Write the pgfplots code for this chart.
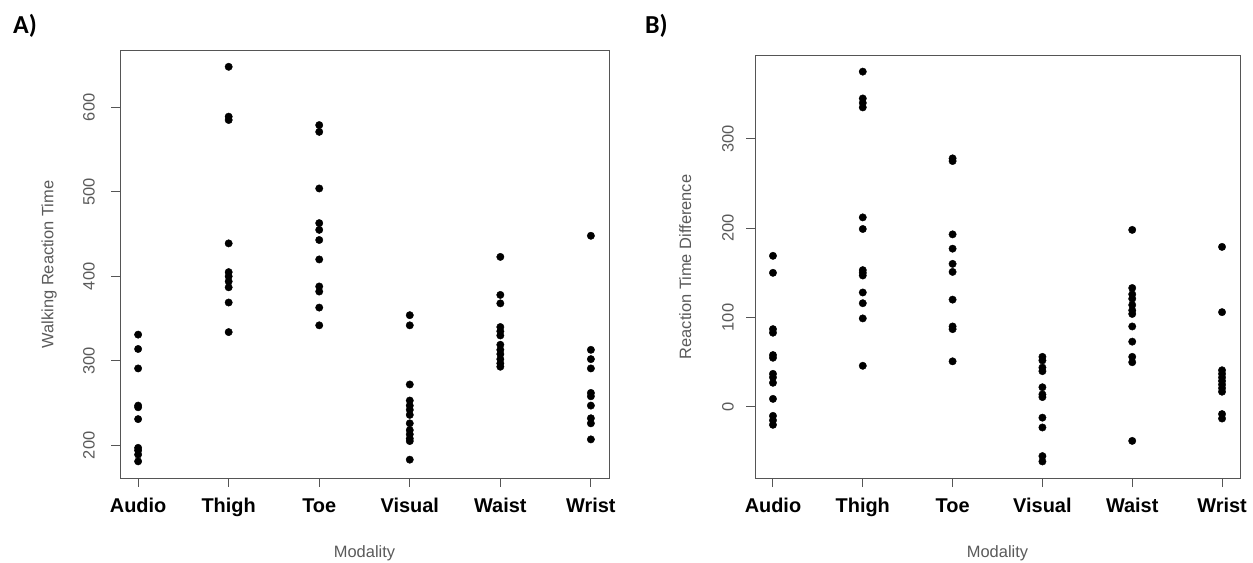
\documentclass[border=0pt]{standalone}
\usepackage{fontspec}
\setmainfont{Liberation Sans}
\newfontfamily\calib{Carlito}
\usepackage{pgfplots}
\pgfplotsset{compat=1.18}
\definecolor{framegray}{HTML}{555555}
\definecolor{labgray}{HTML}{5A5A5A}

\pgfplotsset{
  rplot/.style={
    anchor=south west,
    scale only axis,
    xmin=0.8, xmax=6.2,
    xtick={1,2,3,4,5,6},
    xticklabels={Audio,Thigh,Toe,Visual,Waist,Wrist},
    xtick pos=bottom, ytick pos=left,
    tick align=outside,
    major tick length=9bp,
    axis line style={framegray, line width=1bp},
    tick style={framegray, line width=1bp},
    /pgf/number format/assume math mode=true,
    xticklabel style={font=\fontsize{20}{22}\selectfont\bfseries, black, anchor=base, inner sep=0pt},
    yticklabel style={font=\fontsize{16.5}{18}\selectfont, labgray, rotate=90, anchor=south, inner sep=0pt},
    xlabel={Modality},
    xlabel style={font=\fontsize{16.5}{18}\selectfont, labgray, at={(axis description cs:0.5,0)}, anchor=base, inner sep=0pt, yshift=-79bp},
    ylabel style={font=\fontsize{16.5}{18}\selectfont, labgray, rotate=0, anchor=center},
  },
  rdot/.style={only marks, black, mark=*, mark size=3.7bp, mark options={fill=black}},
}

\begin{document}
\begin{tikzpicture}
\useasboundingbox (0,0) rectangle (1253bp,563bp);
\node[font=\calib\fontsize{26}{28}\selectfont\bfseries, anchor=base west, inner sep=0pt] at (13bp,529.5bp) {A)};
\node[font=\calib\fontsize{26}{28}\selectfont\bfseries, anchor=base west, inner sep=0pt] at (645bp,529.5bp) {B)};

% panel A
\begin{axis}[rplot,
  at={(120bp,85bp)}, width=489bp, height=427bp,
  ymin=161.3, ymax=666.7,
  ytick={200,300,400,500,600},
  xticklabel shift=25bp,
  yticklabel shift=16bp,
  ylabel={Walking Reaction Time},
  ylabel style={at={(axis description cs:-0.145,0.5)}},
]
\addplot[rdot] coordinates {(1,331) (1,314) (1,291) (1,247) (1,245) (1,231) (1,197) (1,194) (1,189) (1,181)};
\addplot[rdot] coordinates {(2,648) (2,589) (2,585) (2,439) (2,405) (2,400) (2,394) (2,387) (2,369) (2,334)};
\addplot[rdot] coordinates {(3,579) (3,571) (3,504) (3,463) (3,455) (3,443) (3,420) (3,388) (3,382) (3,363) (3,342)};
\addplot[rdot] coordinates {(4,354) (4,342) (4,272) (4,253) (4,247) (4,242) (4,236) (4,226) (4,218) (4,213) (4,208) (4,205) (4,183)};
\addplot[rdot] coordinates {(5,423) (5,378) (5,368) (5,340) (5,335) (5,330) (5,319) (5,313) (5,308) (5,302) (5,297) (5,293)};
\addplot[rdot] coordinates {(6,448) (6,313) (6,302) (6,291) (6,262) (6,258) (6,247) (6,232) (6,226) (6,207)};
\end{axis}

% panel B
\begin{axis}[rplot,
  at={(755bp,85bp)}, width=485bp, height=422bp,
  ymin=-79.5, ymax=392.5,
  ytick={0,100,200,300},
  xticklabel shift=25bp,
  yticklabel shift=12bp,
  ylabel={Reaction Time Difference},
  ylabel style={at={(axis description cs:-0.144,0.5)}},
]
\addplot[rdot] coordinates {(1,169) (1,150) (1,87) (1,83) (1,58) (1,55) (1,37) (1,33) (1,27) (1,9) (1,-10) (1,-15) (1,-20)};
\addplot[rdot] coordinates {(2,375) (2,345) (2,340) (2,335) (2,212) (2,199) (2,153) (2,150) (2,147) (2,128) (2,116) (2,99) (2,46)};
\addplot[rdot] coordinates {(3,278) (3,275) (3,193) (3,177) (3,160) (3,151) (3,120) (3,90) (3,87) (3,51)};
\addplot[rdot] coordinates {(4,56) (4,52) (4,44) (4,40) (4,22) (4,14) (4,11) (4,-12) (4,-23) (4,-55) (4,-61)};
\addplot[rdot] coordinates {(5,198) (5,133) (5,126) (5,121) (5,114) (5,108) (5,104) (5,90) (5,73) (5,56) (5,50) (5,-38)};
\addplot[rdot] coordinates {(6,179) (6,106) (6,41) (6,37) (6,33) (6,29) (6,25) (6,21) (6,17) (6,-8) (6,-13)};
\end{axis}
\end{tikzpicture}
\end{document}
